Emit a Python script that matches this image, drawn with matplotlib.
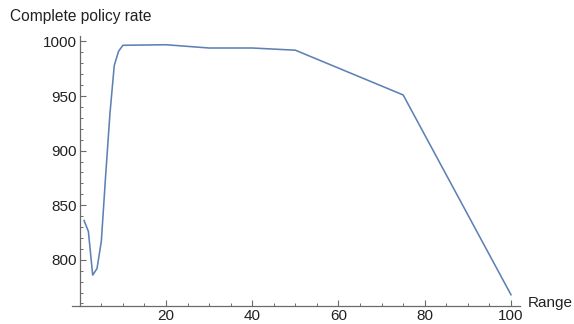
import matplotlib
matplotlib.use("Agg")
import matplotlib.pyplot as plt
from matplotlib.ticker import MultipleLocator

plt.rcParams['font.family'] = ['Liberation Sans', 'DejaVu Sans']

# Policy rate as a function of range
range_vals = [1, 2, 3, 4, 5, 6, 7, 8, 9, 10, 20, 30, 40, 50, 75, 100]
policy_rate = [836, 826, 786, 792, 817, 877, 934, 978, 991, 996.5,
               997, 994, 994, 992, 951, 768]

x_ticks = [20, 40, 60, 80, 100]
y_ticks = [800, 850, 900, 950, 1000]

W, H = 574, 324
fig = plt.figure(figsize=(W / 100, H / 100), dpi=100)
left_px, right_px, top_px, bottom_px = 72, 519.6, 36, 306
ax = fig.add_axes([left_px / W, (H - bottom_px) / H,
                   (right_px - left_px) / W, (bottom_px - top_px) / H])

ax.plot(range_vals, policy_rate, color='#5E81B5', lw=1.15)

ax.set_xlim(-1.8, 102)
ax.set_ylim(757.7, 1005)

axis_col = '#6b6b6b'
for s in ('top', 'right'):
    ax.spines[s].set_visible(False)
ax.spines['left'].set_position(('data', 0))
for s in ('left', 'bottom'):
    ax.spines[s].set_color(axis_col)
    ax.spines[s].set_linewidth(0.9)

ax.set_xticks(x_ticks)
ax.set_yticks(y_ticks)
ax.xaxis.set_minor_locator(MultipleLocator(5))
ax.yaxis.set_minor_locator(MultipleLocator(10))
ax.tick_params(axis='both', which='major', direction='in', length=4.5,
               width=0.8, color=axis_col, labelsize=11, labelcolor='#222222')
ax.tick_params(axis='both', which='minor', direction='in', length=2.5,
               width=0.7, color=axis_col)
ax.tick_params(axis='x', which='major', pad=2.5)
ax.tick_params(axis='y', which='major', pad=2)

fig.text(10 / W, 1 - 17 / H, 'Complete policy rate', fontsize=11.2,
         color='#222222', ha='left', va='center')
fig.text(528 / W, 1 - 303 / H, 'Range', fontsize=11, color='#222222',
         ha='left', va='center')

fig.savefig('out.png', dpi=100)
